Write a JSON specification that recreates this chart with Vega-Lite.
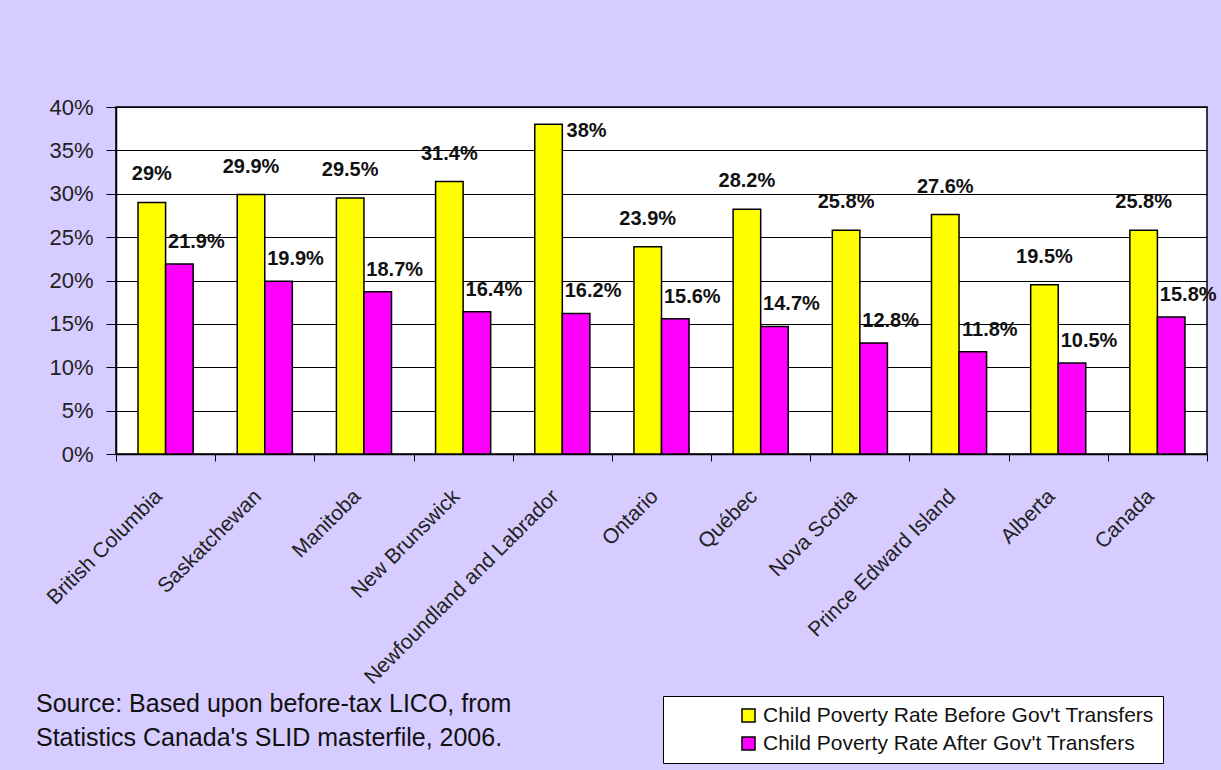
{
  "$schema": "https://vega.github.io/schema/vega-lite/v6.json",
  "width": 1091,
  "height": 347,
  "autosize": {"type": "none"},
  "padding": {"left": 116, "top": 107, "right": 14, "bottom": 316},
  "background": "#D6CCFF",
  "config": {
    "font": "Liberation Sans",
    "view": {"fill": "white", "stroke": "black", "strokeWidth": 1.5}
  },
  "title": {
    "text": ["Source: Based upon before-tax LICO, from", "Statistics Canada's SLID masterfile, 2006."],
    "orient": "bottom",
    "anchor": "start",
    "frame": "group",
    "dx": -80,
    "offset": -72,
    "fontSize": 25,
    "fontWeight": "normal",
    "lineHeight": 34,
    "color": "#111111"
  },
  "data": {
    "values": [
      {"province": "British Columbia", "series": "Child Poverty Rate Before Gov't Transfers", "value": 0.29},
      {"province": "British Columbia", "series": "Child Poverty Rate After Gov't Transfers", "value": 0.219},
      {"province": "Saskatchewan", "series": "Child Poverty Rate Before Gov't Transfers", "value": 0.299},
      {"province": "Saskatchewan", "series": "Child Poverty Rate After Gov't Transfers", "value": 0.199},
      {"province": "Manitoba", "series": "Child Poverty Rate Before Gov't Transfers", "value": 0.295},
      {"province": "Manitoba", "series": "Child Poverty Rate After Gov't Transfers", "value": 0.187},
      {"province": "New Brunswick", "series": "Child Poverty Rate Before Gov't Transfers", "value": 0.314},
      {"province": "New Brunswick", "series": "Child Poverty Rate After Gov't Transfers", "value": 0.164},
      {"province": "Newfoundland and Labrador", "series": "Child Poverty Rate Before Gov't Transfers", "value": 0.38},
      {"province": "Newfoundland and Labrador", "series": "Child Poverty Rate After Gov't Transfers", "value": 0.162},
      {"province": "Ontario", "series": "Child Poverty Rate Before Gov't Transfers", "value": 0.239},
      {"province": "Ontario", "series": "Child Poverty Rate After Gov't Transfers", "value": 0.156},
      {"province": "Québec", "series": "Child Poverty Rate Before Gov't Transfers", "value": 0.282},
      {"province": "Québec", "series": "Child Poverty Rate After Gov't Transfers", "value": 0.147},
      {"province": "Nova Scotia", "series": "Child Poverty Rate Before Gov't Transfers", "value": 0.258},
      {"province": "Nova Scotia", "series": "Child Poverty Rate After Gov't Transfers", "value": 0.128},
      {"province": "Prince Edward Island", "series": "Child Poverty Rate Before Gov't Transfers", "value": 0.276},
      {"province": "Prince Edward Island", "series": "Child Poverty Rate After Gov't Transfers", "value": 0.118},
      {"province": "Alberta", "series": "Child Poverty Rate Before Gov't Transfers", "value": 0.195},
      {"province": "Alberta", "series": "Child Poverty Rate After Gov't Transfers", "value": 0.105},
      {"province": "Canada", "series": "Child Poverty Rate Before Gov't Transfers", "value": 0.258},
      {"province": "Canada", "series": "Child Poverty Rate After Gov't Transfers", "value": 0.158}
    ]
  },
  "encoding": {
    "x": {
      "field": "province",
      "type": "nominal",
      "sort": null,
      "scale": {"paddingInner": 0, "paddingOuter": 0},
      "axis": {
        "title": null,
        "labelAngle": -45,
        "labelAlign": "right",
        "labelBaseline": "middle",
        "labelFontSize": 21,
        "labelColor": "#222222",
        "labelPadding": 32,
        "labelOffset": -7,
        "labelLimit": 500,
        "labelOverlap": false,
        "tickBand": "extent",
        "tickSize": 7,
        "tickColor": "black",
        "domainColor": "black",
        "domainWidth": 1.5,
        "grid": false
      }
    },
    "xOffset": {
      "field": "series",
      "sort": ["Child Poverty Rate Before Gov't Transfers", "Child Poverty Rate After Gov't Transfers"],
      "scale": {"paddingInner": 0, "paddingOuter": 0.8}
    },
    "y": {
      "field": "value",
      "type": "quantitative",
      "scale": {"domain": [0, 0.4]},
      "axis": {
        "title": null,
        "values": [0, 0.05, 0.1, 0.15, 0.2, 0.25, 0.3, 0.35, 0.4],
        "format": ".0%",
        "labelFontSize": 22,
        "labelColor": "#222222",
        "labelPadding": 13,
        "tickSize": 10,
        "tickColor": "black",
        "domainColor": "black",
        "domainWidth": 1.5,
        "grid": true,
        "gridColor": "black",
        "gridWidth": 1.2
      }
    }
  },
  "layer": [
    {
      "mark": {"type": "bar", "stroke": "black", "strokeWidth": 1.5},
      "encoding": {
        "color": {
          "field": "series",
          "type": "nominal",
          "sort": ["Child Poverty Rate Before Gov't Transfers", "Child Poverty Rate After Gov't Transfers"],
          "scale": {"range": ["#FFFF00", "#FF00FF"]},
          "legend": {
            "orient": "none",
            "legendX": 547,
            "legendY": 589,
            "title": null,
            "fillColor": "white",
            "strokeColor": "black",
            "padding": 9,
            "symbolType": "square",
            "symbolSize": 169,
            "symbolStrokeColor": "black",
            "symbolStrokeWidth": 1.5,
            "symbolOffset": 66,
            "labelFontSize": 21,
            "labelColor": "#111111",
            "labelLimit": 600,
            "rowPadding": 6
          }
        }
      }
    },
    {
      "transform": [{"filter": "datum.series == \"Child Poverty Rate Before Gov't Transfers\" && datum.value <= 0.35"}],
      "mark": {"type": "text", "dy": -28, "baseline": "middle", "fontSize": 20, "fontWeight": "bold", "color": "#111111"},
      "encoding": {"text": {"field": "value", "type": "quantitative", "format": ".1~%"}}
    },
    {
      "transform": [{"filter": "datum.series == \"Child Poverty Rate Before Gov't Transfers\" && datum.value > 0.35"}],
      "mark": {"type": "text", "dx": 38, "dy": 7, "baseline": "middle", "fontSize": 20, "fontWeight": "bold", "color": "#111111"},
      "encoding": {"text": {"field": "value", "type": "quantitative", "format": ".1~%"}}
    },
    {
      "transform": [{"filter": "datum.series == \"Child Poverty Rate After Gov't Transfers\""}],
      "mark": {"type": "text", "dx": 17, "dy": -22, "baseline": "middle", "fontSize": 20, "fontWeight": "bold", "color": "#111111"},
      "encoding": {"text": {"field": "value", "type": "quantitative", "format": ".1~%"}}
    }
  ]
}
